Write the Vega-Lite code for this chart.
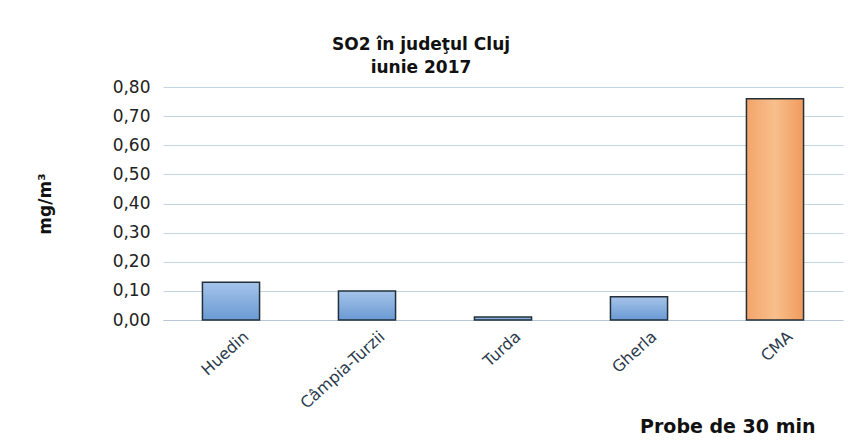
{
  "$schema": "https://vega.github.io/schema/vega-lite/v6.json",
  "autosize": "none",
  "width": 680,
  "height": 233,
  "padding": {"left": 163, "top": 87, "right": 6, "bottom": 126},
  "background": "white",
  "title": {
    "text": ["SO2 în judeţul Cluj", "iunie 2017"],
    "font": "DejaVu Sans",
    "fontSize": 17,
    "fontWeight": "bold",
    "color": "#111111",
    "lineHeight": 23,
    "anchor": "middle",
    "dx": -82,
    "offset": 1
  },
  "data": {
    "values": [
      {"statie": "Huedin", "valoare": 0.13},
      {"statie": "Câmpia-Turzii", "valoare": 0.10},
      {"statie": "Turda", "valoare": 0.01},
      {"statie": "Gherla", "valoare": 0.08},
      {"statie": "CMA", "valoare": 0.76}
    ]
  },
  "mark": {"type": "bar", "stroke": "#22303a", "strokeWidth": 1.5},
  "encoding": {
    "x": {
      "field": "statie",
      "type": "nominal",
      "sort": null,
      "scale": {"paddingInner": 0.58, "paddingOuter": 0.29},
      "axis": {
        "title": "Probe de 30 min",
        "titleFont": "DejaVu Sans",
        "titleFontSize": 19,
        "titleFontWeight": "bold",
        "titleColor": "#111111",
        "titleX": 652,
        "titleY": 112,
        "titleAlign": "right",
        "titleBaseline": "alphabetic",
        "labelAngle": -42,
        "labelFont": "DejaVu Sans",
        "labelFontSize": 16,
        "labelColor": "#2a3a4c",
        "labelPadding": 8,
        "labelOffset": 10,
        "domain": true,
        "domainColor": "#b8c8d8",
        "ticks": false
      }
    },
    "y": {
      "field": "valoare",
      "type": "quantitative",
      "scale": {"domain": [0, 0.8], "nice": false},
      "axis": {
        "title": "mg/m³",
        "titleFont": "DejaVu Sans",
        "titleFontSize": 17,
        "titleFontWeight": "bold",
        "titleColor": "#111111",
        "titlePadding": 58,
        "values": [0, 0.1, 0.2, 0.3, 0.4, 0.5, 0.6, 0.7, 0.8],
        "labelExpr": "replace(format(datum.value, '.2f'), '.', ',')",
        "labelFont": "DejaVu Sans",
        "labelFontSize": 17,
        "labelColor": "#222222",
        "labelPadding": 13,
        "ticks": false,
        "domain": false,
        "grid": true,
        "gridColor": "#c4d6e4",
        "gridWidth": 1.2
      }
    },
    "fill": {
      "condition": {
        "test": "datum.statie === 'CMA'",
        "value": {
          "gradient": "linear",
          "x1": 0, "y1": 0, "x2": 1, "y2": 0,
          "stops": [
            {"offset": 0, "color": "#f4a46a"},
            {"offset": 0.5, "color": "#f8bf8c"},
            {"offset": 1, "color": "#f09a5c"}
          ]
        }
      },
      "value": {
        "gradient": "linear",
        "x1": 0, "y1": 0, "x2": 0, "y2": 1,
        "stops": [
          {"offset": 0, "color": "#a6c4ea"},
          {"offset": 1, "color": "#6a9ad4"}
        ]
      }
    }
  },
  "config": {"view": {"stroke": null}}
}
